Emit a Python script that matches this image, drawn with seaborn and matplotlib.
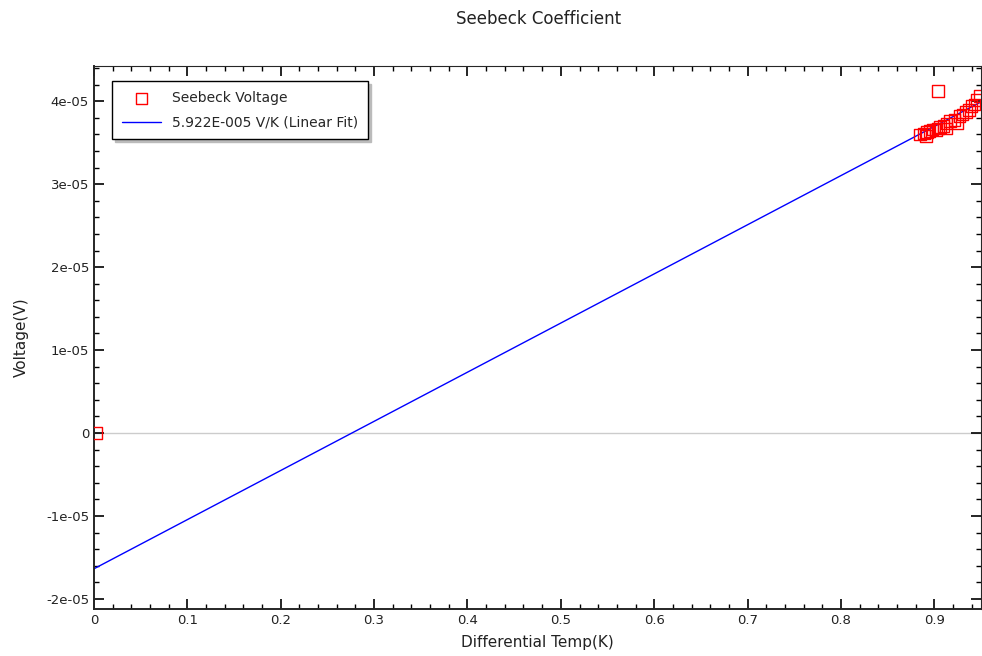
import numpy as np
import pandas as pd
import matplotlib
matplotlib.use("Agg")
import matplotlib.pyplot as plt
import seaborn as sns
from matplotlib.ticker import MultipleLocator, FuncFormatter

# ── Data ──────────────────────────────────────────────────────────────────────
temp_k = [0.002, 0.8844, 0.8887, 0.8919, 0.895, 0.8908, 0.898, 0.9015, 0.9036,
          0.9058, 0.910, 0.913, 0.9165, 0.9122, 0.9218, 0.925, 0.927, 0.930,
          0.9336, 0.9368, 0.940, 0.943, 0.946, 0.9486, 0.9036]
voltage_v = [0.0, 3.60e-5, 3.61e-5, 3.63e-5, 3.64e-5, 3.58e-5, 3.66e-5, 3.65e-5,
             3.67e-5, 3.69e-5, 3.70e-5, 3.73e-5, 3.76e-5, 3.67e-5, 3.77e-5,
             3.73e-5, 3.82e-5, 3.84e-5, 3.87e-5, 3.89e-5, 3.94e-5, 3.96e-5,
             4.01e-5, 4.06e-5, 4.12e-5]

fit_slope = 5.922e-5       # V/K
fit_intercept = -1.635e-5  # V
fit_x = [0.0, 0.95]

pts = pd.DataFrame({"temp": temp_k, "volt": voltage_v})
fit = pd.DataFrame({"temp": fit_x,
                    "volt": [fit_slope * x + fit_intercept for x in fit_x]})

# ── Plot ──────────────────────────────────────────────────────────────────────
sns.set_style("ticks")
plt.rcParams["font.family"] = ["DejaVu Sans"]

fig = plt.figure(figsize=(9.82, 6.56), dpi=100)
ax = fig.add_axes([0.0957, 0.0716, 0.9033, 0.8274])

ax.axhline(0, color="#cccccc", lw=1, zorder=0)
sns.lineplot(data=fit, x="temp", y="volt", ax=ax, color="blue", lw=1,
             label=f"{fit_slope:.3E}".replace("E-05", "E-005") + " V/K (Linear Fit)")
sns.scatterplot(data=pts, x="temp", y="volt", ax=ax, marker="s", s=70,
                facecolor="none", edgecolor="red", linewidth=1,
                label="Seebeck Voltage", zorder=3, clip_on=True)

ax.set_xlim(0, 0.95)
ax.set_ylim(-2.12e-5, 4.42e-5)
ax.xaxis.set_major_locator(MultipleLocator(0.1))
ax.xaxis.set_minor_locator(MultipleLocator(0.02))
ax.yaxis.set_major_locator(MultipleLocator(1e-5))
ax.yaxis.set_minor_locator(MultipleLocator(2e-6))
ax.xaxis.set_major_formatter(FuncFormatter(lambda v, p: "0" if abs(v) < 1e-9 else f"{v:.1f}"))
ax.yaxis.set_major_formatter(FuncFormatter(lambda v, p: "0" if abs(v) < 1e-12 else f"{v:.0e}"))
ax.yaxis.get_offset_text().set_visible(False)

ax.tick_params(which="both", direction="in", top=True, right=True, labelsize=9.5,
               color="black", labelcolor="#222222")
ax.tick_params(which="major", length=7, width=1.2)
ax.tick_params(which="minor", length=3.5, width=1)
for side in ["left", "bottom"]:
    ax.spines[side].set_linewidth(1.4)
for side in ["top", "right"]:
    ax.spines[side].set_linewidth(0.8)

ax.set_xlabel("Differential Temp(K)", fontsize=11, labelpad=6, color="#222222")
ax.set_ylabel("Voltage(V)", fontsize=11, labelpad=12, color="#222222")
fig.suptitle("Seebeck Coefficient", fontsize=12, x=0.548, y=0.985, color="#222222")

handles, labels = ax.get_legend_handles_labels()
leg = ax.legend(handles[::-1], labels[::-1], loc="upper left",
                bbox_to_anchor=(0.013, 0.985), fontsize=10, frameon=True,
                fancybox=False, shadow={"color": "#bbbbbb", "alpha": 1},
                edgecolor="black", framealpha=1, borderpad=0.7,
                handlelength=2.8, labelspacing=0.75)
leg.get_frame().set_linewidth(1)

fig.savefig("out.png", dpi=100)
